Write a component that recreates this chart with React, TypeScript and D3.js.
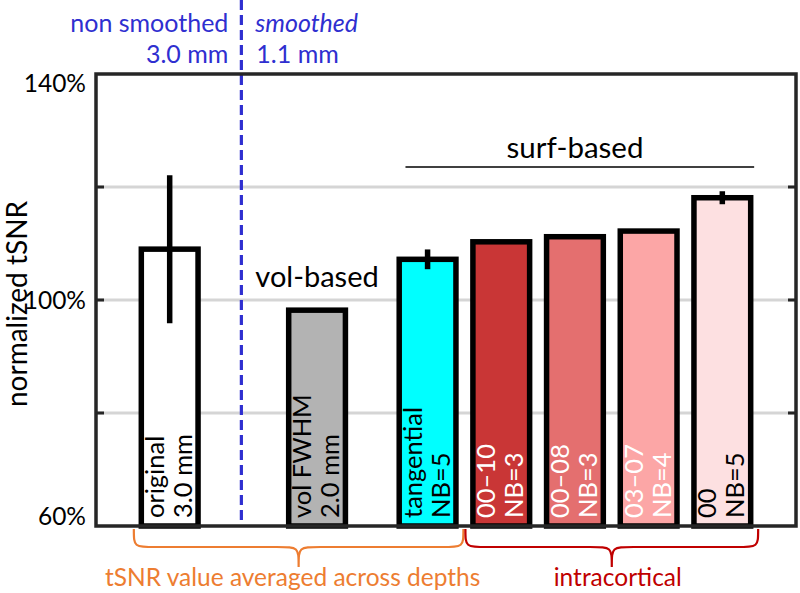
import React from "react";
import * as d3 from "d3";

// ---- data ----
const labelLine1 = ["original", "vol FWHM", "tangential", "00–10", "00–08", "03–07", "00"];
const labelLine2 = ["3.0 mm", "2.0 mm", "NB=5", "NB=3", "NB=3", "NB=4", "NB=5"];
const xPositions = [1, 3, 4.5, 5.5, 6.5, 7.5, 8.5];
const values = [109, 98.2, 107.2, 110.3, 111.2, 112.2, 118.1];
const errors = [13.1, 0, 1.75, 0, 0, 0, 1.15];
const fills = ["#ffffff", "#b3b3b3", "#00ffff", "#c93636", "#e46f6f", "#fca6a6", "#fde0e1"];
const textColors = ["#000", "#000", "#000", "#fff", "#fff", "#fff", "#000"];
const yTicks = [60, 100, 140];
const yTickLabels = ["60%", "100%", "140%"];
const gridValues = [80, 100, 120];
const dividerX = 2;
const braceGroups = [
  { from: 0.5, to: 5.0, label: "tSNR value averaged across depths", color: "#ED7D31", shift: -6 },
  { from: 5.0, to: 9.0, label: "intracortical", color: "#C00000", shift: 6 },
];
const surfSpan = [4.2, 9.0];

const W = 800;
const H = 593;
const FONT = "Lato, 'Open Sans', sans-serif";

function bracePath(x0: number, x1: number, yTop: number, yMid: number, yTip: number) {
  const xm = (x0 + x1) / 2;
  const r = 22;
  return [
    `M${x0},${yTop}`,
    `C${x0},${yMid} ${x0},${yMid} ${x0 + r},${yMid}`,
    `L${xm - r},${yMid}`,
    `C${xm},${yMid} ${xm},${yMid} ${xm},${yTip}`,
    `C${xm},${yMid} ${xm},${yMid} ${xm + r},${yMid}`,
    `L${x1 - r},${yMid}`,
    `C${x1},${yMid} ${x1},${yMid} ${x1},${yTop}`,
  ].join(" ");
}

export default function App() {
  const left = 96, right = 796, top = 74, bottom = 526;
  const x = d3.scaleLinear().domain([0, 9.5]).range([left, right]);
  const y = d3.scaleLinear().domain([60, 140]).range([bottom, top]);
  const barW = x(0.77) - x(0);
  const blue = "#2f2fd0";

  return (
    <svg width={W} height={H} style={{ position: "absolute", left: 0, top: 0, background: "#fff" }}
      fontFamily={FONT}>
      {/* gridlines */}
      {gridValues.map((g) => (
        <line key={"g" + g} x1={left} x2={right} y1={y(g)} y2={y(g)} stroke="#d5d5d5" strokeWidth={3} />
      ))}
      {/* ticks */}
      {gridValues.map((g) => (
        <g key={"t" + g}>
          <line x1={left} x2={left + 8} y1={y(g)} y2={y(g)} stroke="#262626" strokeWidth={3} />
          <line x1={right - 8} x2={right} y1={y(g)} y2={y(g)} stroke="#262626" strokeWidth={3} />
        </g>
      ))}
      {/* tick labels */}
      {yTicks.map((t, i) => {
        const yy = Math.min(Math.max(y(t), top + 9), bottom - 10);
        return (
          <text key={"tl" + t} x={86} y={yy} dy="0.36em" textAnchor="end" fontSize={24.5} fill="#000">
            {yTickLabels[i]}
          </text>
        );
      })}
      {/* y axis title */}
      <text transform={`translate(27,${(top + bottom) / 2 + 4}) rotate(-90)`} textAnchor="middle"
        fontSize={28} fill="#000">normalized tSNR</text>

      {/* bars */}
      {values.map((v, i) => {
        const cx = x(xPositions[i]);
        return (
          <g key={"b" + i}>
            <rect x={cx - barW / 2} y={y(v)} width={barW} height={y(60) - y(v)} fill={fills[i]}
              stroke="#000" strokeWidth={5.5} />
            {errors[i] > 0 && (
              <line x1={cx} x2={cx} y1={y(v + errors[i])} y2={y(v - errors[i])} stroke="#000" strokeWidth={5.5} />
            )}
            <text transform={`translate(${cx},518) rotate(-90)`} fontSize={25.5} fill={textColors[i]}>
              <tspan x={0} y={-6}>{labelLine1[i]}</tspan>
              <tspan x={0} y={22}>{labelLine2[i]}</tspan>
            </text>
          </g>
        );
      })}

      {/* divider */}
      <line x1={x(dividerX) - 2} x2={x(dividerX) - 2} y1={0} y2={bottom} stroke={blue} strokeWidth={3.2}
        strokeDasharray="10,5" />
      <text x={x(dividerX) - 15} y={32} textAnchor="end" fontSize={25} fill={blue}>non smoothed</text>
      <text x={x(dividerX) - 15} y={63} textAnchor="end" fontSize={25} fill={blue}>3.0 mm</text>
      <text x={x(dividerX) + 12} y={32} fontSize={25} fill={blue} fontStyle="italic">smoothed</text>
      <text x={x(dividerX) + 13} y={63} fontSize={25} fill={blue}>1.1 mm</text>

      {/* annotations */}
      <text x={x(3)} y={287} textAnchor="middle" fontSize={29} fill="#000">vol-based</text>
      <line x1={x(surfSpan[0])} x2={x(surfSpan[1]) - 5} y1={167} y2={167} stroke="#000" strokeWidth={1.5} />
      <text x={575} y={158} textAnchor="middle" fontSize={29.5} fill="#000">surf-based</text>

      {/* axes box */}
      <rect x={left} y={top} width={right - left} height={bottom - top} fill="none" stroke="#262626"
        strokeWidth={3.5} />

      {/* braces */}
      {braceGroups.map((b) => {
        const x0 = x(b.from), x1 = x(b.to);
        return (
          <g key={b.label}>
            <path d={bracePath(x0 + 1, x1 - 1, 529, 547, 567)} fill="none" stroke={b.color} strokeWidth={2.2} />
            <text x={(x0 + x1) / 2 + b.shift} y={586} textAnchor="middle" fontSize={24.5} fill={b.color}>{b.label}</text>
          </g>
        );
      })}
    </svg>
  );
}
